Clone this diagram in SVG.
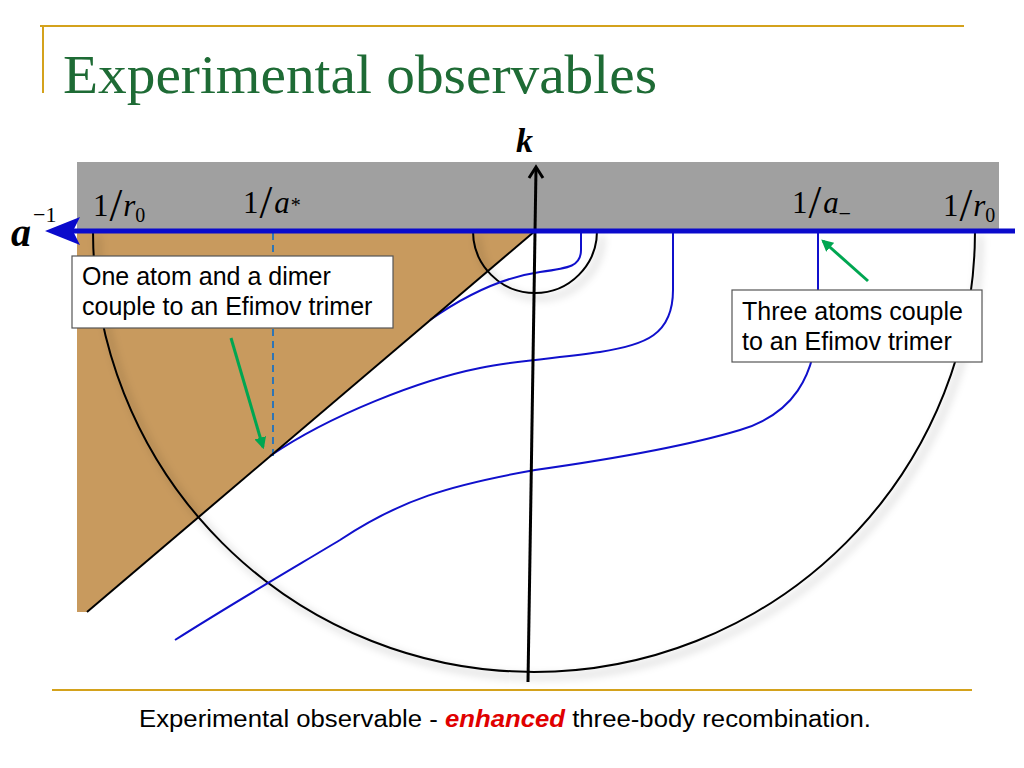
<svg xmlns="http://www.w3.org/2000/svg" width="1024" height="768" viewBox="0 0 1024 768">
<style>
.gold{stroke:#D4A21C;stroke-width:2;fill:none}
.blk{stroke:#000;fill:none}
.bc{stroke:#1010CC;stroke-width:2;fill:none}
.lbl{font-family:"Liberation Serif",serif;font-size:31px;fill:#000}
.it{font-style:italic}
.sub{font-size:20px;font-style:normal}
.sl{font-size:46px;font-style:normal}
.box{fill:#fff;stroke:#555;stroke-width:1.2}
.bt{font-family:"Liberation Sans",Arial,sans-serif;font-size:25px;fill:#000}
.grn{stroke:#00A651;stroke-width:3;fill:none}
</style>
<defs>
<filter id="sh" x="-10%" y="-10%" width="130%" height="130%">
<feDropShadow dx="5" dy="5" stdDeviation="4" flood-color="#000" flood-opacity="0.35"/>
</filter>
<marker id="ga" viewBox="0 0 10 10" refX="8" refY="5" markerWidth="4" markerHeight="4" orient="auto">
<path d="M0,0 L10,5 L0,10 z" fill="#00A651"/>
</marker>
</defs>
<rect width="1024" height="768" fill="#fff"/>
<g id="frame">
<line class="gold" x1="40" y1="26" x2="964" y2="26"/>
<line class="gold" x1="43" y1="26" x2="43" y2="93"/>
<line class="gold" x1="52" y1="690" x2="972" y2="690"/>
<text x="63" y="93" font-family="Liberation Serif,serif" font-size="54" fill="#1E6B35" textLength="594" lengthAdjust="spacingAndGlyphs">Experimental observables</text>
</g>
<g id="band">
<rect x="77" y="162" width="922" height="69" fill="#A0A0A0"/>
</g>
<g id="region">
<path d="M77,231 L535,231 L87,612 L77,612 Z" fill="#C89A5E"/>
</g>
<g id="circles" filter="url(#sh)">
<path class="blk" stroke-width="2" d="M93,231 A441,441 0 0 0 975,231"/>
<path class="blk" stroke-width="2" d="M473,231 A62,62 0 0 0 597,231"/>
</g>
<g id="connectors">
<line x1="273" y1="233" x2="273" y2="456" stroke="#2E75B6" stroke-width="2" stroke-dasharray="7,5"/>
<path class="bc" d="M581,233 L581,250 C581,266 570,268 540,272 C505,277 470,292 430,320"/>
<path class="bc" d="M673,233 L673,290 C673,335 645,345 600,352 C560,358 520,360 480,368 C420,380 330,415 270,456"/>
<path class="bc" d="M818,233 L818,310 C818,380 790,415 740,430 C690,445 620,458 535,470 C450,485 400,500 340,540 C290,570 230,605 175,640"/>
<line class="blk" stroke-width="2" x1="535" y1="231" x2="87" y2="612"/>
<line class="blk" stroke-width="3" x1="528" y1="682" x2="536" y2="168"/>
<path class="blk" stroke-width="3" d="M529,178 L536,167 L543,178"/>
<line x1="72" y1="231" x2="1015" y2="231" stroke="#0A0ACC" stroke-width="5"/>
<path d="M45,231 L80,217 L73,231 L80,245 Z" fill="#0A0ACC"/>
<line class="grn" x1="231" y1="338" x2="263" y2="447" marker-end="url(#ga)"/>
<line class="grn" x1="868" y1="281" x2="823" y2="241" marker-end="url(#ga)"/>
</g>
<g id="labels">
<text x="11" y="246" font-family="Liberation Serif,serif" font-size="40" font-weight="bold" font-style="italic">a<tspan dx="2" dy="-24" font-size="22" font-weight="normal" font-style="normal">−1</tspan></text>
<text x="516" y="152" font-family="Liberation Serif,serif" font-size="34" font-weight="bold" font-style="italic">k</text>
<text class="lbl" x="93" y="216">1<tspan class="sl" dx="1" dy="5">/</tspan><tspan class="it" dx="1" dy="-5">r</tspan><tspan class="sub" dy="6">0</tspan></text>
<text class="lbl" x="243" y="213">1<tspan class="sl" dx="1" dy="5">/</tspan><tspan class="it" dx="2" dy="-5">a</tspan><tspan class="sub" dx="1" dy="-1">*</tspan></text>
<text class="lbl" x="792" y="213">1<tspan class="sl" dx="1" dy="5">/</tspan><tspan class="it" dx="2" dy="-5">a</tspan><tspan class="sub" dx="1" dy="-2">_</tspan></text>
<text class="lbl" x="943" y="216">1<tspan class="sl" dx="1" dy="5">/</tspan><tspan class="it" dx="1" dy="-5">r</tspan><tspan class="sub" dy="6">0</tspan></text>
</g>
<g id="box1">
<rect class="box" x="72" y="256" width="321" height="72"/>
<text class="bt" x="82" y="285">One atom and a dimer</text>
<text class="bt" x="82" y="315">couple to an Efimov trimer</text>
</g>
<g id="box2">
<rect class="box" x="732" y="290" width="250" height="72"/>
<text class="bt" x="742" y="320">Three atoms couple</text>
<text class="bt" x="742" y="350">to an Efimov trimer</text>
</g>
<g id="caption">
<text x="139" y="727" font-family="Liberation Sans,Arial,sans-serif" font-size="23" fill="#000" textLength="732" lengthAdjust="spacingAndGlyphs">Experimental observable - <tspan font-weight="bold" font-style="italic" fill="#E00000">enhanced</tspan> three-body recombination.</text>
</g>
</svg>
